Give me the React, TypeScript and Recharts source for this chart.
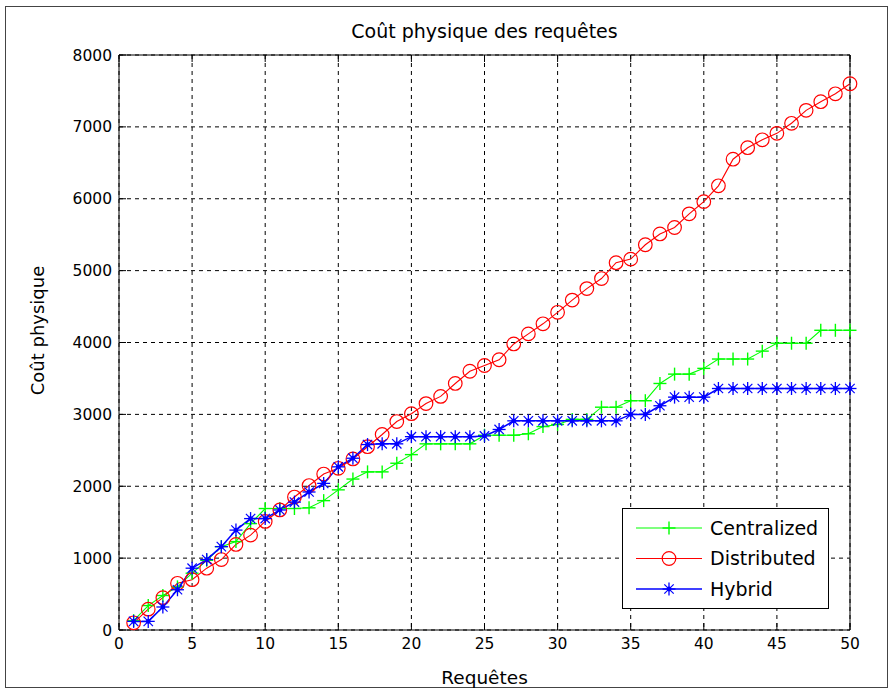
import React from 'react';
import { LineChart, Line, XAxis, YAxis, CartesianGrid, Legend, Label } from 'recharts';

const requests = [1, 2, 3, 4, 5, 6, 7, 8, 9, 10, 11, 12, 13, 14, 15, 16, 17, 18, 19, 20, 21, 22, 23, 24, 25, 26, 27, 28, 29, 30, 31, 32, 33, 34, 35, 36, 37, 38, 39, 40, 41, 42, 43, 44, 45, 46, 47, 48, 49, 50];
const centralized = [
  130, 340, 480, 600, 790, 970, 1160, 1230, 1480, 1690,
  1690, 1690, 1700, 1800, 1950, 2100, 2200, 2200, 2320, 2440,
  2590, 2590, 2590, 2590, 2710, 2710, 2710, 2730, 2830, 2860,
  2930, 2930, 3100, 3100, 3190, 3190, 3430, 3560, 3560, 3640,
  3770, 3770, 3770, 3880, 3990, 3990, 3990, 4170, 4170, 4170,
];
const distributed = [
  100, 290, 450, 650, 700, 860, 980, 1190, 1320, 1510,
  1670, 1850, 2010, 2170, 2250, 2380, 2550, 2720, 2900, 3010,
  3150, 3250, 3430, 3600, 3680, 3760, 3980, 4120, 4260, 4420,
  4590, 4750, 4890, 5110, 5160, 5360, 5510, 5600, 5790, 5960,
  6180, 6550, 6710, 6820, 6910, 7050, 7230, 7350, 7460, 7600,
];
const hybrid = [
  120, 120, 320, 560, 860, 980, 1160, 1390, 1550, 1550,
  1670, 1780, 1920, 2040, 2270, 2390, 2580, 2590, 2590, 2690,
  2690, 2690, 2690, 2690, 2700, 2790, 2910, 2910, 2910, 2910,
  2910, 2910, 2910, 2910, 3000, 3000, 3120, 3240, 3240, 3240,
  3360, 3360, 3360, 3360, 3360, 3360, 3360, 3360, 3360, 3360,
];
const xTicks = [0, 5, 10, 15, 20, 25, 30, 35, 40, 45, 50];
const yTicks = [0, 1000, 2000, 3000, 4000, 5000, 6000, 7000, 8000];
const seriesKeys = ['centralized', 'distributed', 'hybrid'];
const seriesNames = ['Centralized', 'Distributed', 'Hybrid'];
const seriesColors = ['#00ff00', '#ff0000', '#0000ff'];
const seriesMarkers = ['plus', 'circle', 'star'];
const titleText = 'Coût physique des requêtes';
const xLabelText = 'Requêtes';
const yLabelText = 'Coût physique';

const data = requests.map((r, i) => ({
  x: r,
  centralized: centralized[i],
  distributed: distributed[i],
  hybrid: hybrid[i],
}));

const FONT = '"DejaVu Sans", Verdana, sans-serif';
const TICK_LEN = 7;
const X_MARGIN = 8;
const Y_MARGIN = 7;

function Marker({ kind, cx, cy, color }: any) {
  if (cx == null || cy == null) return null;
  if (kind === 'plus') {
    const s = 6.5;
    return (
      <g>
        <line x1={cx - s} x2={cx + s} y1={cy} y2={cy} stroke={color} strokeWidth={1.4} />
        <line x1={cx} x2={cx} y1={cy - s} y2={cy + s} stroke={color} strokeWidth={1.4} />
      </g>
    );
  }
  if (kind === 'circle') {
    return <circle cx={cx} cy={cy} r={6.8} fill="none" stroke={color} strokeWidth={1.2} />;
  }
  const s = 6.5;
  const d = s * 0.72;
  return (
    <g>
      <line x1={cx - s} x2={cx + s} y1={cy} y2={cy} stroke={color} strokeWidth={1.3} />
      <line x1={cx} x2={cx} y1={cy - s} y2={cy + s} stroke={color} strokeWidth={1.3} />
      <line x1={cx - d} x2={cx + d} y1={cy - d} y2={cy + d} stroke={color} strokeWidth={1.2} />
      <line x1={cx - d} x2={cx + d} y1={cy + d} y2={cy - d} stroke={color} strokeWidth={1.2} />
      <circle cx={cx} cy={cy} r={2.4} fill={color} />
    </g>
  );
}

const BottomTick = ({ x, y, payload }: any) => (
  <g>
    <line x1={x} x2={x} y1={y - X_MARGIN} y2={y - X_MARGIN - TICK_LEN} stroke="#000" />
    <text x={x} y={y} dy="0.71em" textAnchor="middle" fontFamily={FONT} fontSize={15.5} fill="#000">
      {payload.value}
    </text>
  </g>
);
const TopTick = ({ x, y }: any) => (
  <line x1={x} x2={x} y1={y} y2={y + TICK_LEN} stroke="#000" />
);
const LeftTick = ({ x, y, payload }: any) => (
  <g>
    <line x1={x + Y_MARGIN} x2={x + Y_MARGIN + TICK_LEN} y1={y} y2={y} stroke="#000" />
    <text x={x} y={y} dy="0.36em" textAnchor="end" fontFamily={FONT} fontSize={15.5} fill="#000">
      {payload.value}
    </text>
  </g>
);
const RightTick = ({ x, y }: any) => (
  <line x1={x} x2={x - TICK_LEN} y1={y} y2={y} stroke="#000" />
);

const renderLegend = () => (
  <svg width={208} height={102} style={{ display: 'block' }}>
    <rect x={0.5} y={0.5} width={206} height={100} fill="#fff" stroke="#000" />
    {seriesNames.map((name, i) => {
      const cy = 20 + i * 30.5;
      return (
        <g key={name}>
          <line x1={14} x2={80} y1={cy} y2={cy} stroke={seriesColors[i]} strokeWidth={i === 2 ? 1.5 : 1.2} />
          <Marker kind={seriesMarkers[i]} cx={47} cy={cy} color={seriesColors[i]} />
          <text x={88} y={cy} dy="0.36em" fontFamily={FONT} fontSize={19} fill="#000">
            {name}
          </text>
        </g>
      );
    })}
  </svg>
);

export default function App() {
  return (
    <div style={{ position: 'absolute', left: 0, top: 0, width: 893, height: 692, background: '#fff' }}>
      <div
        style={{
          position: 'absolute',
          left: 5,
          top: 6,
          width: 883,
          height: 682,
          border: '1px solid #444',
          boxSizing: 'border-box',
        }}
      />
      <div style={{ position: 'absolute', left: 0, top: 0 }}>
        <LineChart
          width={893}
          height={692}
          data={data}
          margin={{ top: 54, right: 42, bottom: 32, left: 59 }}
        >
          <CartesianGrid stroke="#000" strokeDasharray="4 4" strokeWidth={1} />
          <XAxis
            dataKey="x"
            type="number"
            domain={[0, 50]}
            ticks={xTicks}
            interval={0}
            height={30}
            tickSize={0}
            tickMargin={X_MARGIN}
            axisLine={{ stroke: '#000' }}
            tickLine={false}
            tick={<BottomTick />}
          >
            <Label
              content={({ viewBox }: any) => (
                <text
                  x={viewBox.x + viewBox.width / 2}
                  y={viewBox.y + 54}
                  textAnchor="middle"
                  fontFamily={FONT}
                  fontSize={18.5}
                  fill="#000"
                >
                  {xLabelText}
                </text>
              )}
            />
          </XAxis>
          <XAxis
            xAxisId="top"
            orientation="top"
            dataKey="x"
            type="number"
            domain={[0, 50]}
            ticks={xTicks}
            interval={0}
            height={1}
            tickSize={0}
            tickMargin={0}
            axisLine={{ stroke: '#000' }}
            tickLine={false}
            tick={<TopTick />}
          >
            <Label
              content={({ viewBox }: any) => (
                <text
                  x={viewBox.x + viewBox.width / 2}
                  y={38}
                  textAnchor="middle"
                  fontFamily={FONT}
                  fontSize={19}
                  fill="#000"
                >
                  {titleText}
                </text>
              )}
            />
          </XAxis>
          <YAxis
            type="number"
            domain={[0, 8000]}
            ticks={yTicks}
            interval={0}
            width={60}
            tickSize={0}
            tickMargin={Y_MARGIN}
            axisLine={{ stroke: '#000' }}
            tickLine={false}
            tick={<LeftTick />}
          >
            <Label
              content={({ viewBox }: any) => {
                const cx = 44;
                const cy = viewBox.y + viewBox.height / 2 - 12;
                return (
                  <text
                    x={cx}
                    y={cy}
                    transform={`rotate(-90 ${cx} ${cy})`}
                    textAnchor="middle"
                    fontFamily={FONT}
                    fontSize={18}
                    fill="#000"
                  >
                    {yLabelText}
                  </text>
                );
              }}
            />
          </YAxis>
          <YAxis
            yAxisId="right"
            orientation="right"
            type="number"
            domain={[0, 8000]}
            ticks={yTicks}
            interval={0}
            width={1}
            tickSize={0}
            tickMargin={0}
            axisLine={{ stroke: '#000' }}
            tickLine={false}
            tick={<RightTick />}
          />
          <Legend
            layout="horizontal"
            verticalAlign="middle"
            align="center"
            content={renderLegend}
            wrapperStyle={{ position: 'absolute', left: 622, top: 508, width: 208, height: 102 }}
          />
          {seriesKeys.map((key, i) => (
            <Line
              key={key}
              type="linear"
              dataKey={key}
              name={seriesNames[i]}
              stroke={seriesColors[i]}
              strokeWidth={i === 2 ? 1.5 : 1.1}
              isAnimationActive={false}
              activeDot={false}
              dot={(p: any) => (
                <Marker key={`${key}-${p.index}`} kind={seriesMarkers[i]} cx={p.cx} cy={p.cy} color={seriesColors[i]} />
              )}
            />
          ))}
        </LineChart>
      </div>
    </div>
  );
}
